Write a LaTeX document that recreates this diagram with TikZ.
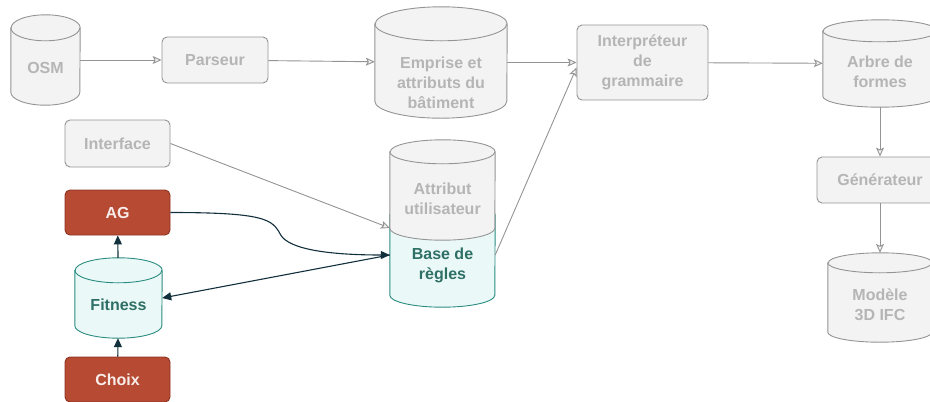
\documentclass[tikz,border=0pt]{standalone}
\usepackage{fontspec}
\setmainfont{Liberation Sans}
\usetikzlibrary{arrows.meta,positioning}
\definecolor{greyfill}{HTML}{F3F3F3}
\definecolor{greyline}{HTML}{949494}
\definecolor{greytext}{HTML}{B5B5B5}
\definecolor{tealline}{HTML}{2A8C80}
\definecolor{tealfill}{HTML}{EAF9F7}
\definecolor{tealtext}{HTML}{2E6F66}
\definecolor{rustfill}{HTML}{B64A32}
\definecolor{rustline}{HTML}{8E3321}
\definecolor{navy}{HTML}{12303C}

% cylinder drawn round a placeholder node: #1 node, #2 half width, #3 ellipse depth, #4 style
\newcommand{\drawdrum}[4]{%
  \draw[#4] ([yshift=-#3pt]#1.north west) -- ([yshift=#3pt]#1.south west)
     arc[start angle=180, end angle=360, x radius=#2pt, y radius=#3pt]
     -- ([yshift=-#3pt]#1.north east)
     arc[start angle=0, end angle=180, x radius=#2pt, y radius=#3pt] -- cycle;
  \draw[#4, fill=none] ([yshift=-#3pt]#1.north west)
     arc[start angle=180, end angle=360, x radius=#2pt, y radius=#3pt];
}

\begin{document}
\begin{tikzpicture}[x=1pt, y=-1pt,
    box/.style={draw=greyline, fill=greyfill, rounded corners=5pt, line width=0.9pt, inner sep=0pt},
    drum/.style={inner sep=0pt},
    gdrum/.style={draw=greyline, fill=greyfill, line width=0.9pt},
    tdrum/.style={draw=tealline, fill=tealfill, line width=0.9pt},
    rust/.style={box, draw=rustline, fill=rustfill},
    lbl/.style={font=\fontsize{16}{20}\selectfont\bfseries, text=greytext, align=center},
    tlbl/.style={lbl, text=tealtext},
    wlbl/.style={lbl, text=white!90!rustfill},
    arr/.style={-{Stealth[length=9pt, width=8pt, inset=2pt, fill=greyfill]}, line width=0.9pt, greyline},
    darr/.style={-{Triangle[length=9pt, width=8pt]}, line width=1.1pt, navy},
]
\clip (0,0) rectangle (930,402);

% Main chain
\node[drum, minimum width=69, minimum height=90] (osm) at (45.5,60) {};
\node[box, minimum width=106, minimum height=46] (parseur) at (215,60) {};
\node[drum, minimum width=132, minimum height=111] (emprise) at (441,62.5) {};
\node[box, minimum width=131, minimum height=75] (interp) at (642.5,62.5) {};
\node[drum, minimum width=114, minimum height=87] (arbre) at (880,63.5) {};
\node[box, minimum width=126, minimum height=46] (gen) at (880,180) {};
\node[drum, minimum width=104, minimum height=89] (modele) at (880,297.5) {};

% User side
\node[box, minimum width=105, minimum height=47] (interface) at (117.5,143.5) {};
\node[drum, minimum width=105, minimum height=104] (base) at (442.5,255) {};
\node[drum, minimum width=105, minimum height=100] (attr) at (442.5,190) {};

% GA loop
\node[rust, minimum width=105, minimum height=45] (ag) at (117.5,212.5) {};
\node[drum, minimum width=87, minimum height=80] (fitness) at (118.5,298) {};
\node[rust, minimum width=105, minimum height=45] (choix) at (117.5,379.5) {};

% Cylinders
\drawdrum{osm}{34.5}{13}{gdrum}
\drawdrum{emprise}{66}{17}{gdrum}
\drawdrum{arbre}{57}{11}{gdrum}
\drawdrum{modele}{52}{10}{gdrum}
\drawdrum{base}{52.5}{12}{tdrum}
\drawdrum{attr}{52.5}{12}{gdrum}
\drawdrum{fitness}{43.5}{12.5}{tdrum}

% Labels
\node[lbl] (osm-t) at (45.5,68) {OSM};
\node[lbl] (parseur-t) at (parseur) {Parseur};
\node[lbl] (emprise-t) at (441,82.5) {Emprise et\\attributs du\\bâtiment};
\node[lbl] (interp-t) at (interp) {Interpréteur\\de\\grammaire};
\node[lbl] (arbre-t) at (880,72) {Arbre de\\formes};
\node[lbl] (gen-t) at (gen) {Générateur};
\node[lbl] (modele-t) at (880,305) {Modèle\\3D IFC};
\node[lbl] (interface-t) at (interface) {Interface};
\node[tlbl] (base-t) at (442.5,265.5) {Base de\\règles};
\node[lbl] (attr-t) at (442.5,199) {Attribut\\utilisateur};
\node[wlbl] (ag-t) at (ag) {AG};
\node[tlbl] (fitness-t) at (118.5,305) {Fitness};
\node[wlbl] (choix-t) at (choix) {Choix};

% Grey arrows
\draw[arr] (osm) -- (parseur);
\draw[arr] (parseur) -- (emprise);
\draw[arr] (emprise) -- (interp);
\draw[arr] (base.east) -- ([yshift=-5pt]interp.west);
\draw[arr] (interp) -- (arbre);
\draw[arr] (arbre) -- (gen);
\draw[arr] (gen) -- (modele);
\draw[arr] (interface.east) -- ([yshift=-38pt]attr.west);

% Dark arrows
\draw[darr] (ag.east) .. controls +(95,0) and +(-8,-15) .. ++(110,22)
    .. controls +(8,15) and +(-60,0) .. (base.west);
\draw[darr, {Triangle[length=9pt, width=8pt]}-] (fitness.east) -- (base.west);
\draw[darr] (fitness) -- (ag);
\draw[darr] (choix) -- (fitness);
\end{tikzpicture}
\end{document}
